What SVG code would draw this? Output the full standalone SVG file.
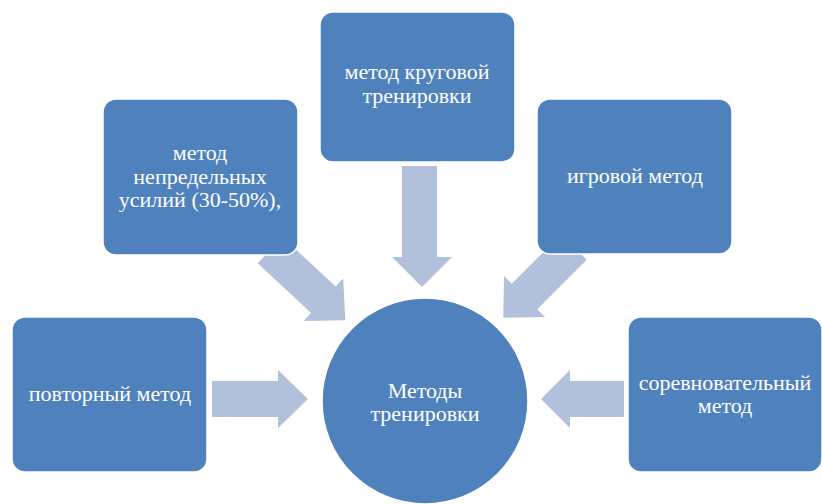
<svg xmlns="http://www.w3.org/2000/svg" width="822" height="504" viewBox="0 0 822 504">
<style>
.box{fill:#4F81BD;stroke:#FFFFFF;stroke-width:1.5}
.arr{fill:#B2C1DB}
</style>
<rect width="822" height="504" fill="#FFFFFF"/>
<g id="connectors">
<polygon class="arr" points="212,381 278,381 278,370 308,399 278,428 278,417 212,417"/>
<polygon class="arr" points="624,381 570,381 570,370 541,399 570,428 570,417 624,417"/>
<polygon class="arr" points="402,166 437,166 437,257 452,257 422,287 392,257 402,257"/>
<polygon class="arr" transform="translate(270,250) rotate(43)" points="0,-18 73,-18 73,-29 103,0 73,29 73,18 0,18"/>
<polygon class="arr" transform="translate(574,247) rotate(135)" points="0,-18 70,-18 70,-29 100,0 70,29 70,18 0,18"/>
</g>
<g id="node-center">
<circle cx="425" cy="401" r="103" fill="#4F81BD" stroke="#FFFFFF" stroke-width="1.5"/>
<text x="425" y="398" fill="#FFFFFF" text-anchor="middle" style="font-family:'Liberation Serif',serif;font-size:22px">Методы</text>
<text x="425" y="421" fill="#FFFFFF" text-anchor="middle" style="font-family:'Liberation Serif',serif;font-size:22px">тренировки</text>
</g>
<g id="node-povtorny">
<rect class="box" x="12" y="317" width="195" height="155" rx="13"/>
<text x="110" y="401" fill="#FFFFFF" text-anchor="middle" style="font-family:'Liberation Serif',serif;font-size:22px">повторный метод</text>
</g>
<g id="node-nepredelnyh">
<rect class="box" x="103" y="99" width="195" height="156" rx="13"/>
<text x="200" y="160" fill="#FFFFFF" text-anchor="middle" style="font-family:'Liberation Serif',serif;font-size:22px">метод</text>
<text x="200" y="183.5" fill="#FFFFFF" text-anchor="middle" style="font-family:'Liberation Serif',serif;font-size:22px">непредельных</text>
<text x="200" y="207" fill="#FFFFFF" text-anchor="middle" style="font-family:'Liberation Serif',serif;font-size:22px">усилий (30-50%),</text>
</g>
<g id="node-krugovoy">
<rect class="box" x="320" y="12" width="195" height="150" rx="13"/>
<text x="417" y="79" fill="#FFFFFF" text-anchor="middle" style="font-family:'Liberation Serif',serif;font-size:22px">метод круговой</text>
<text x="417" y="103" fill="#FFFFFF" text-anchor="middle" style="font-family:'Liberation Serif',serif;font-size:22px">тренировки</text>
</g>
<g id="node-igrovoy">
<rect class="box" x="537" y="99" width="195" height="155" rx="13"/>
<text x="635" y="183" fill="#FFFFFF" text-anchor="middle" style="font-family:'Liberation Serif',serif;font-size:22px">игровой метод</text>
</g>
<g id="node-sorevnovatelny">
<rect class="box" x="628" y="317" width="194" height="155" rx="13"/>
<text x="725" y="390" fill="#FFFFFF" text-anchor="middle" style="font-family:'Liberation Serif',serif;font-size:22px">соревновательный</text>
<text x="725" y="413" fill="#FFFFFF" text-anchor="middle" style="font-family:'Liberation Serif',serif;font-size:22px">метод</text>
</g>
</svg>
